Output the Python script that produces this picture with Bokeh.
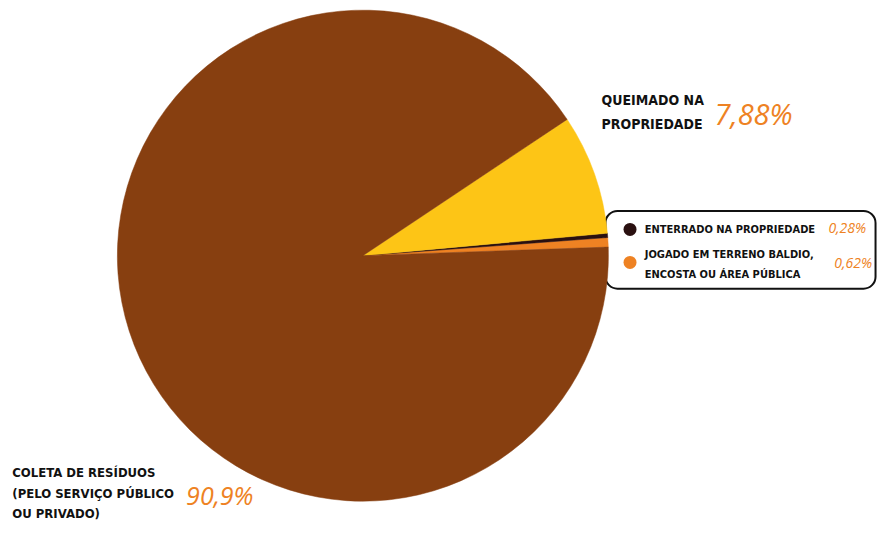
import math
from bokeh.plotting import figure
from bokeh.models import Range1d, BoxAnnotation, ColumnDataSource
from bokeh.core.properties import value
from bokeh.embed import file_html
from bokeh.resources import INLINE

# ---- data ----
categories = ["COLETA DE RESÍDUOS (PELO SERVIÇO PÚBLICO OU PRIVADO)",
              "QUEIMADO NA PROPRIEDADE",
              "ENTERRADO NA PROPRIEDADE",
              "JOGADO EM TERRENO BALDIO, ENCOSTA OU ÁREA PÚBLICA"]
values = [90.9, 7.88, 0.28, 0.62]
pct_labels = ["90,9%", "7,88%", "0,28%", "0,62%"]
colors = ["#873F10", "#FDC516", "#2A1010", "#EE8223"]

# drawing order counter-clockwise starting just above 3 o'clock
draw_order = [3, 2, 1, 0]
start_deg = 2.0

W, H = 877, 521
RW, RH = 893, 537  # reference coordinate frame
p = figure(width=W, height=H, output_backend="svg", toolbar_location=None,
           x_range=Range1d(0, RW), y_range=Range1d(0, RH),
           min_border=0, outline_line_color=None)
p.axis.visible = False
p.grid.visible = False
p.background_fill_color = "white"

SH = RH  # data y = SH - screen y

# legend box (behind pie)
box = BoxAnnotation(left=616, right=891, top=SH - 217, bottom=SH - 297,
                    fill_color="white", fill_alpha=1, line_color="#111111",
                    line_alpha=1, line_width=2, border_radius=12, level="underlay")
p.add_layout(box)

total = sum(values)
starts, ends, cols = [], [], []
a = math.radians(start_deg)
for i in draw_order:
    span = values[i] / total * 2 * math.pi
    starts.append(a)
    ends.append(a + span)
    cols.append(colors[i])
    a += span
src = ColumnDataSource(dict(x=[369] * 4, y=[SH - 263] * 4, s=starts, e=ends, c=cols))
p.wedge(x="x", y="y", radius=250, start_angle="s", end_angle="e",
        fill_color="c", line_color="c", line_width=0.5, source=src)

label_font = value("'DejaVu Sans Condensed', 'Liberation Sans Narrow', 'Roboto', sans-serif")
pct_font = value("Open Sans")
black = "#111111"
orange = "#EE8223"

def label(x, ys, lines, size):
    p.text(x=[x] * len(lines), y=[SH - y for y in ys], text=lines,
           text_font=label_font, text_font_style="bold", text_font_size=size,
           text_color=black, text_align="left", text_baseline="middle")

def pct(x, y, t, size):
    p.text(x=[x], y=[SH - y], text=[t], text_font=pct_font, text_font_style="italic",
           text_font_size=size, text_color=orange, text_align="left", text_baseline="middle")

# Queimado
label(612, [103, 127], ["QUEIMADO NA", "PROPRIEDADE"], "14px")
pct(727, 116, pct_labels[1], "29px")

# Coleta
label(12, [487, 508, 529], ["COLETA DE RESÍDUOS", "(PELO SERVIÇO PÚBLICO", "OU PRIVADO)"], "13px")
pct(189, 510, pct_labels[0], "25px")

# legend entries
p.scatter(x=[641, 641], y=[SH - 236, SH - 270], size=13,
          fill_color=[colors[2], colors[3]], line_color=None)
label(656, [236], ["ENTERRADO NA PROPRIEDADE"], "11px")
label(656, [262, 282], ["JOGADO  EM  TERRENO  BALDIO,", "ENCOSTA OU ÁREA PÚBLICA"], "11px")
pct(843, 234, pct_labels[2], "14px")
pct(849, 270, pct_labels[3], "14px")

open("out.html", "w").write(file_html(p, INLINE))
